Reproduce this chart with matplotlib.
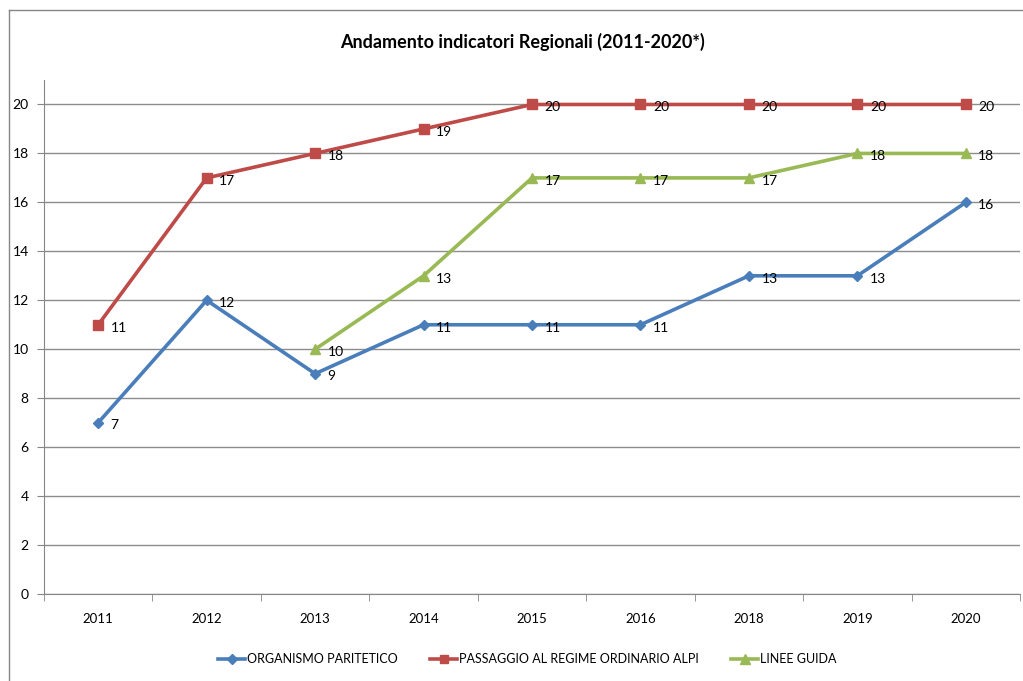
import matplotlib.pyplot as plt
from matplotlib.lines import Line2D
import numpy as np

plt.rcParams['font.family'] = ['Lato', 'DejaVu Sans']

# --- dati
anni = ['2011', '2012', '2013', '2014', '2015', '2016', '2018', '2019', '2020']
organismo = [7, 12, 9, 11, 11, 11, 13, 13, 16]
passaggio = [11, 17, 18, 19, 20, 20, 20, 20, 20]
linee = [np.nan, np.nan, 10, 13, 17, 17, 17, 18, 18]

serie = [
    ('ORGANISMO PARITETICO', organismo, '#4a7ebb', 'D', 5.5),
    ('PASSAGGIO AL REGIME ORDINARIO ALPI', passaggio, '#be4b48', 's', 7),
    ('LINEE GUIDA', linee, '#98b954', '^', 7.5),
]

fig = plt.figure(figsize=(10.23, 6.81), dpi=100)
ax = fig.add_axes([44 / 1023, 87 / 681, 976 / 1023, 514 / 681])

x = np.arange(len(anni))
for nome, valori, colore, marker, ms in serie:
    ax.plot(x, valori, color=colore, lw=2.6, marker=marker, ms=ms, label=nome)
    # etichette dei valori a destra del punto
    for xi, v in zip(x, valori):
        if np.isnan(v):
            continue
        ax.annotate(str(int(v)), (xi, v), xytext=(9, -2), textcoords='offset points',
                    fontsize=10, ha='left', va='center', color='black')

ax.set_xlim(-0.5, len(anni) - 0.5)
ax.set_ylim(0, 21)
ax.set_yticks(range(0, 21, 2))
ax.set_xticks(x)
ax.set_xticklabels(anni)
ax.set_xticks(np.arange(-0.5, len(anni), 1), minor=True)
ax.tick_params(axis='x', which='major', length=0, pad=14, labelsize=9.5)
ax.tick_params(axis='x', which='minor', length=5, color='#868686')
ax.tick_params(axis='y', length=5, color='#868686', labelsize=10, pad=6)
ax.yaxis.grid(True, color='#8c8c8c', lw=1)
ax.set_axisbelow(True)
for s in ['top', 'right']:
    ax.spines[s].set_visible(False)
ax.spines['left'].set_color('#868686')
ax.spines['bottom'].set_color('#868686')

fig.text(522 / 1023, 1 - 42 / 681, 'Andamento indicatori Regionali (2011-2020*)',
         ha='center', va='center', fontsize=13, fontweight='bold')

ax.legend(loc='center', bbox_to_anchor=(527 / 1023, 1 - 659 / 681), bbox_transform=fig.transFigure,
          ncol=3, frameon=False, fontsize=9, handlelength=2.2, columnspacing=2.6,
          handletextpad=0.1, markerscale=0.9)

# cornice esterna
fig.add_artist(Line2D([9 / 1023, 1], [1 - 10 / 681, 1 - 10 / 681], color='#868686', lw=1))
fig.add_artist(Line2D([9 / 1023, 9 / 1023], [0, 1 - 10 / 681], color='#868686', lw=1))

fig.savefig('out.png', dpi=100)
